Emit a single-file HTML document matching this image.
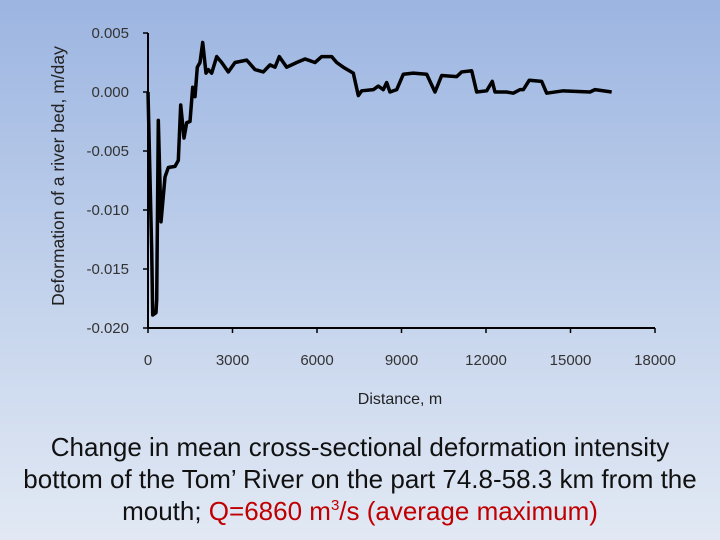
<!DOCTYPE html>
<html><head><meta charset="utf-8"><style>
body{margin:0;width:720px;height:540px;overflow:hidden;background:linear-gradient(#9cb5e1,#c4d3ec 55%,#e2e9f4);font-family:"Liberation Sans",sans-serif}
#cap{position:absolute;left:-20px;top:431px;width:760px;text-align:center;font-size:26px;line-height:32px;color:#111}
sup{font-size:15px;line-height:0;vertical-align:10px}
</style></head><body>
<svg id="chart" width="720" height="420" style="position:absolute;left:0;top:0"></svg>
<div id="cap">Change in mean cross-sectional deformation intensity<br>bottom of the Tom’ River on the part 74.8-58.3 km from the<br>mouth; <span style="color:#c00000">Q=6860 m<sup>3</sup>/s (average maximum)</span></div>
<script>
const distances=[0,131,167,284,309,366,462,604,721,959,1076,1161,1278,1374,1491,1587,1669,1750,1846,1942,2059,2141,2261,2439,2616,2851,3089,3504,3799,4093,4331,4509,4661,4924,5279,5574,5929,6167,6522,6699,6934,7289,7466,7587,7999,8176,8354,8474,8591,8829,9063,9418,9894,10189,10427,10959,11137,11492,11669,12024,12223,12319,12734,12969,13207,13324,13537,13977,14155,14744,15692,15869,16462];
const deformation=[0,-0.0134,-0.0189,-0.0187,-0.0176,-0.0024,-0.0110,-0.0072,-0.0064,-0.0063,-0.0058,-0.0011,-0.0039,-0.0026,-0.0025,0.0004,-0.0004,0.0021,0.0025,0.0042,0.0016,0.0019,0.0016,0.0030,0.0025,0.0017,0.0025,0.0027,0.0019,0.0017,0.0023,0.0021,0.0030,0.0021,0.0025,0.0028,0.0025,0.0030,0.0030,0.0025,0.0021,0.0016,-0.0003,0.0001,0.0002,0.0005,0.0002,0.0008,0.0000,0.0002,0.0015,0.0016,0.0015,0.0000,0.0014,0.0013,0.0017,0.0018,0.0000,0.0001,0.0009,0,0,-0.0001,0.0002,0.0002,0.0010,0.0009,-0.0001,0.0001,0,0.0002,0];
const xTicks=[0,3000,6000,9000,12000,15000,18000];
const yTicks=[0.005,0.000,-0.005,-0.010,-0.015,-0.020];
const yTickLabels=["0.005","0.000","-0.005","-0.010","-0.015","-0.020"];
const svg=document.getElementById('chart');const NS='http://www.w3.org/2000/svg';
const X=v=>148+v/18000*507, Y=v=>92-v/0.005*59;
function el(t,a,txt){const e=document.createElementNS(NS,t);for(const k in a)e.setAttribute(k,a[k]);if(txt!==undefined)e.textContent=txt;svg.appendChild(e);return e;}
let e=el('line',{x1:148,y1:Y(0.005),x2:148,y2:Y(-0.02),stroke:'#000','stroke-width':2});


e=el('line',{x1:147,y1:Y(-0.02),x2:X(18000),y2:Y(-0.02),stroke:'#000','stroke-width':2});


yTicks.forEach((v,i)=>{
 el('line',{x1:143,y1:Y(v),x2:148,y2:Y(v),stroke:'#000','stroke-width':1.5});
 const t=el('text',{x:129,y:Y(v)+5,'text-anchor':'end','font-size':15,fill:'#333'},yTickLabels[i]);
 
 
});
xTicks.forEach(v=>{
 el('line',{x1:X(v),y1:Y(-0.02),x2:X(v),y2:Y(-0.02)+5,stroke:'#000','stroke-width':1.5});
 const t=el('text',{x:X(v),y:365,'text-anchor':'middle','font-size':15,fill:'#333'},String(v));
 
 
});
const p=el('polyline',{points:distances.map((d,i)=>X(d)+','+Y(deformation[i])).join(' '),fill:'none',stroke:'#000','stroke-width':3.5,'stroke-linejoin':'round'});


let t=el('text',{x:400,y:404,'text-anchor':'middle','font-size':16,fill:'#222'},'Distance, m');


t=el('text',{x:0,y:0,'text-anchor':'middle','font-size':17.5,fill:'#222',transform:'translate(64,176) rotate(-90)'},'Deformation of a river bed, m/day');


</script>
</body></html>
